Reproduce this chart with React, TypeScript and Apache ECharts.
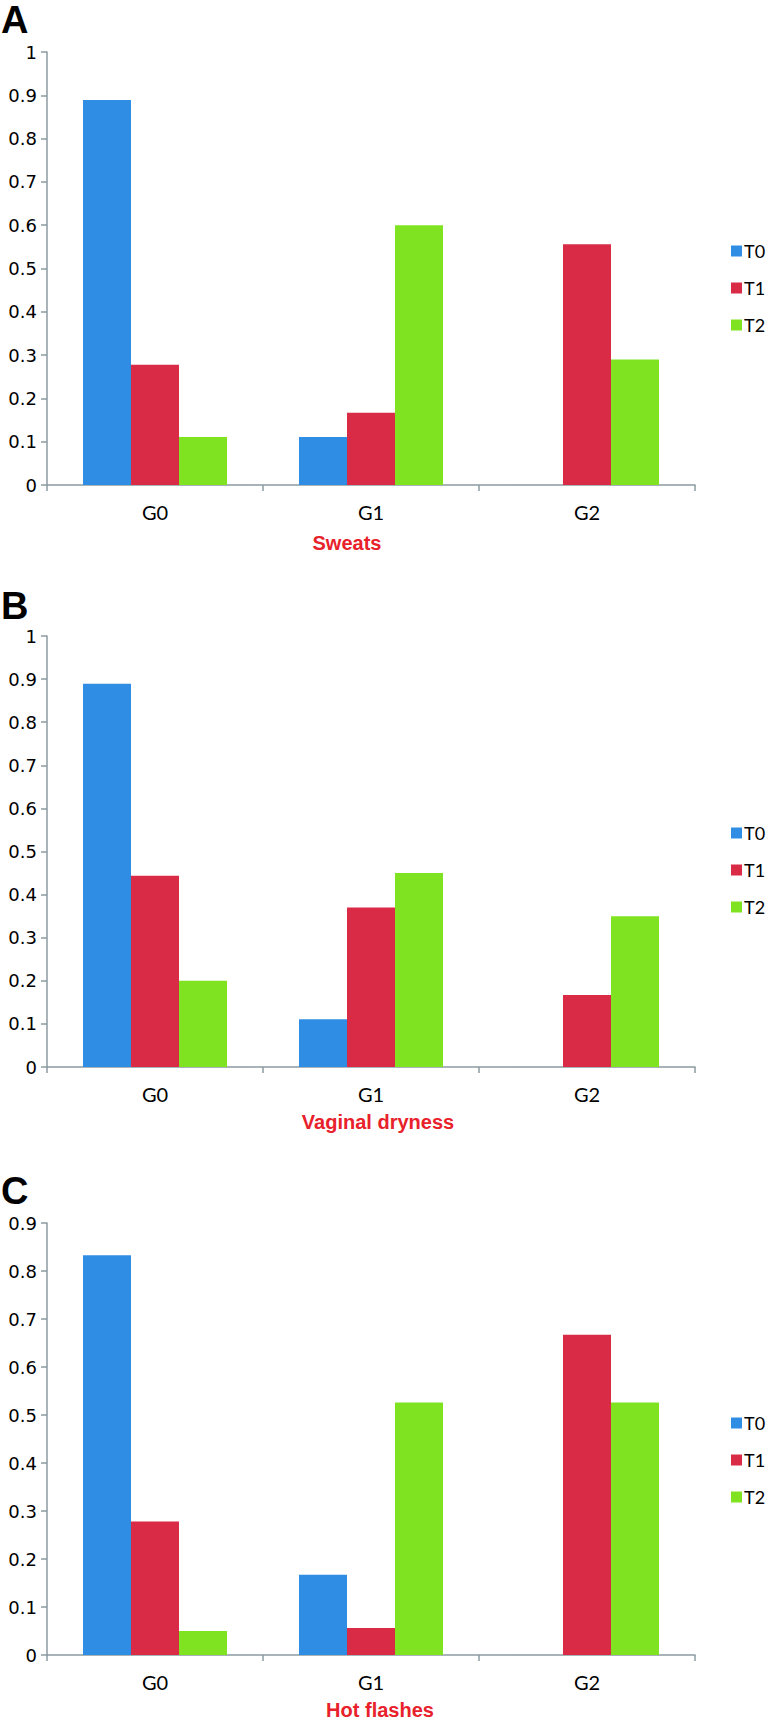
import React, { useEffect, useRef } from "react";
import * as echarts from "echarts";

const categories = ["G0", "G1", "G2"];
const seriesNames = ["T0", "T1", "T2"];
const colors = ["#2f8de4", "#d92b46", "#7fe321"];

// Panel A: Sweats
const sweatsT0 = [0.889, 0.111, 0];
const sweatsT1 = [0.278, 0.167, 0.556];
const sweatsT2 = [0.111, 0.6, 0.29];

// Panel B: Vaginal dryness
const dryT0 = [0.889, 0.111, 0];
const dryT1 = [0.444, 0.37, 0.167];
const dryT2 = [0.2, 0.45, 0.35];

// Panel C: Hot flashes
const hotT0 = [0.833, 0.167, 0];
const hotT1 = [0.278, 0.056, 0.667];
const hotT2 = [0.05, 0.526, 0.526];

const panelTitles = ["Sweats", "Vaginal dryness", "Hot flashes"];
const panelLetters = ["A", "B", "C"];
const yMaxes = [1, 1, 0.9];

const panels = [
  [sweatsT0, sweatsT1, sweatsT2],
  [dryT0, dryT1, dryT2],
  [hotT0, hotT1, hotT2],
];

// layout (page pixels)
const gridTops = [52, 636, 1223];
const gridBottoms = [485, 1067, 1655];
const legendTops = [237, 819, 1409];
const titlePos = [
  [347, 543],
  [378, 1122],
  [380, 1710],
];
const letterY = [20, 606, 1191];

const axisColor = "#8c9ba1";
const catFont = "Lato, 'Noto Sans', sans-serif";

export default function App() {
  const ref = useRef<HTMLDivElement>(null);
  useEffect(() => {
    if (!ref.current) return;
    const chart = echarts.init(ref.current, null, { renderer: "svg" });
    const grid: any[] = [];
    const xAxis: any[] = [];
    const yAxis: any[] = [];
    const series: any[] = [];
    const legend: any[] = [];
    const graphic: any[] = [];
    panels.forEach((panel, p) => {
      grid.push({
        left: 47,
        top: gridTops[p],
        width: 648,
        height: gridBottoms[p] - gridTops[p],
      });
      xAxis.push({
        type: "category",
        gridIndex: p,
        data: categories,
        axisLine: { lineStyle: { color: axisColor, width: 1.5 } },
        axisTick: { show: true, length: 6, lineStyle: { color: axisColor, width: 1.5 } },
        axisLabel: { color: "#000", fontSize: 20, fontFamily: catFont, margin: 17 },
      });
      yAxis.push({
        type: "value",
        gridIndex: p,
        min: 0,
        max: yMaxes[p],
        interval: 0.1,
        splitLine: { show: false },
        axisLine: { show: true, lineStyle: { color: axisColor, width: 1.5 } },
        axisTick: { show: true, length: 6, lineStyle: { color: axisColor, width: 1.5 } },
        axisLabel: {
          color: "#000",
          fontSize: 18,
          fontFamily: "'DejaVu Sans', Verdana, sans-serif",
          margin: 10,
          formatter: (v: number) => String(Math.round(v * 10) / 10),
        },
      });
      panel.forEach((vals, s) => {
        series.push({
          type: "bar",
          name: seriesNames[s],
          xAxisIndex: p,
          yAxisIndex: p,
          data: vals,
          barGap: "0%",
          barCategoryGap: "33.33%",
          itemStyle: { color: colors[s] },
        });
      });
      legend.push({
        data: seriesNames,
        orient: "vertical",
        left: 726,
        top: legendTops[p],
        icon: "rect",
        itemWidth: 11,
        itemHeight: 11,
        itemGap: 19,
        selectedMode: false,
        textStyle: {
          color: "#000",
          fontSize: 18,
          lineHeight: 18,
          fontFamily: catFont,
          padding: [0, 0, 0, -3],
        },
      });
      graphic.push({
        type: "text",
        x: titlePos[p][0],
        y: titlePos[p][1],
        style: {
          text: panelTitles[p],
          fill: "#e8212b",
          font: "bold 20px 'Liberation Sans', Arial, sans-serif",
          textAlign: "center",
          textVerticalAlign: "middle",
        },
      });
      graphic.push({
        type: "text",
        x: 1,
        y: letterY[p],
        style: {
          text: panelLetters[p],
          fill: "#000",
          font: "bold 38px 'Liberation Sans', Arial, sans-serif",
          textAlign: "left",
          textVerticalAlign: "middle",
        },
      });
    });
    chart.setOption({
      animation: false,
      backgroundColor: "#fff",
      grid,
      xAxis,
      yAxis,
      series,
      legend,
      graphic,
    });
    return () => chart.dispose();
  }, []);
  return (
    <div
      ref={ref}
      style={{ position: "absolute", left: 0, top: 0, width: 768, height: 1720, background: "#fff" }}
    />
  );
}
